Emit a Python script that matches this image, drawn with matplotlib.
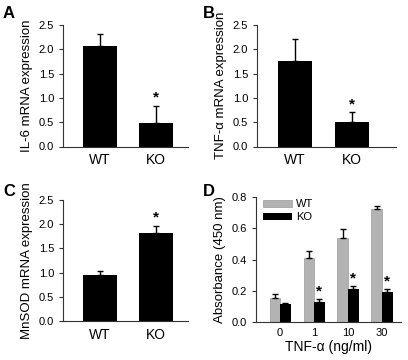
import matplotlib
matplotlib.use('Agg')
import matplotlib.pyplot as plt
import numpy as np

plt.rcParams['font.family'] = ['Liberation Sans', 'DejaVu Sans']

groups = ['WT', 'KO']

il6 = [2.07, 0.49]
il6_err = [0.24, 0.35]
tnf = [1.75, 0.50]
tnf_err = [0.46, 0.21]
mnsod = [0.95, 1.81]
mnsod_err = [0.08, 0.16]

doses = ['0', '1', '10', '30']
abs_wt = [0.151, 0.407, 0.535, 0.721]
abs_wt_err = [0.030, 0.047, 0.058, 0.023]
abs_ko = [0.117, 0.126, 0.211, 0.192]
abs_ko_err = [0.004, 0.021, 0.021, 0.019]
ko_sig = [False, True, True, True]

W, H = 408, 360
fig = plt.figure(figsize=(W / 100, H / 100), dpi=100)


def box(l, t, r, b):
    return [l / W, 1 - b / H, (r - l) / W, (b - t) / H]


def style(ax):
    ax.spines['top'].set_visible(False)
    ax.spines['right'].set_visible(False)
    ax.spines['left'].set_color('#333333')
    ax.spines['bottom'].set_color('#333333')
    ax.tick_params(axis='y', direction='out', length=3, width=0.8,
                   labelsize=8, colors='#333333', labelcolor='black')
    ax.tick_params(axis='x', length=0, labelsize=10, pad=5)


def two_bar(rect, vals, errs, ylabel, letter, star_idx, lim, letter_xy):
    ax = fig.add_axes(rect)
    x = np.arange(len(groups))
    ax.bar(x, vals, 0.6, color='black')
    ax.errorbar(x, vals, yerr=[np.zeros(len(errs)), errs], fmt='none',
                ecolor='black', elinewidth=1, capsize=2.5, capthick=1)
    ax.text(x[star_idx], vals[star_idx] + errs[star_idx] + 0.02, '*',
            ha='center', va='bottom', fontsize=11, fontweight='bold')
    ax.set_xlim(*lim)
    ax.set_ylim(0, 2.5)
    ax.set_yticks([0, 0.5, 1.0, 1.5, 2.0, 2.5])
    ax.set_yticklabels(['0.0', '0.5', '1.0', '1.5', '2.0', '2.5'])
    ax.set_xticks(x)
    ax.set_xticklabels(groups)
    ax.set_ylabel(ylabel, fontsize=9.5, labelpad=4)
    style(ax)
    fig.text(letter_xy[0] / W, 1 - letter_xy[1] / H, letter,
             fontsize=12, fontweight='bold', ha='left', va='center')
    return ax


two_bar(box(63, 25, 188, 146.5), il6, il6_err, 'IL-6 mRNA expression', 'A', 1,
        (-0.66, 1.57), (3, 14))
two_bar(box(257, 25, 396, 146.5), tnf, tnf_err, 'TNF-α mRNA expression', 'B', 1,
        (-0.67, 1.77), (203, 13))
two_bar(box(63, 200, 188, 321), mnsod, mnsod_err, 'MnSOD mRNA expression', 'C', 1,
        (-0.66, 1.57), (3, 191))

# panel D
ax = fig.add_axes(box(256, 197, 401, 322))
x = np.arange(len(doses))
bw = 0.31
ax.bar(x - bw / 2, abs_wt, bw, color='#b3b3b3', edgecolor='#9a9a9a', linewidth=0.5, label='WT')
ax.bar(x + bw / 2, abs_ko, bw, color='black', label='KO')
ax.errorbar(x - bw / 2, abs_wt, yerr=[np.zeros(4), abs_wt_err], fmt='none',
            ecolor='black', elinewidth=1, capsize=2, capthick=1)
ax.errorbar(x + bw / 2, abs_ko, yerr=[np.zeros(4), abs_ko_err], fmt='none',
            ecolor='black', elinewidth=1, capsize=2, capthick=1)
for i in range(len(doses)):
    if ko_sig[i]:
        ax.text(x[i] + bw / 2, abs_ko[i] + abs_ko_err[i] + 0.005, '*',
                ha='center', va='bottom', fontsize=11, fontweight='bold')
ax.set_xlim(-0.71, 3.56)
ax.set_ylim(0, 0.8)
ax.set_yticks([0, 0.2, 0.4, 0.6, 0.8])
ax.set_yticklabels(['0.0', '0.2', '0.4', '0.6', '0.8'])
ax.set_xticks(x)
ax.set_xticklabels(doses)
ax.set_ylabel('Absorbance (450 nm)', fontsize=9.5, labelpad=4)
ax.set_xlabel('TNF-α (ng/ml)', fontsize=10, labelpad=2)
style(ax)
ax.tick_params(axis='x', labelsize=8, pad=4)
ax.legend(loc='upper left', bbox_to_anchor=(-0.02, 1.06), frameon=False, fontsize=8,
          handlelength=2.6, handleheight=0.6, labelspacing=0.25, handletextpad=0.4)
fig.text(203 / W, 1 - 191 / H, 'D', fontsize=12, fontweight='bold', ha='left', va='center')

fig.savefig('out.png', dpi=100)
